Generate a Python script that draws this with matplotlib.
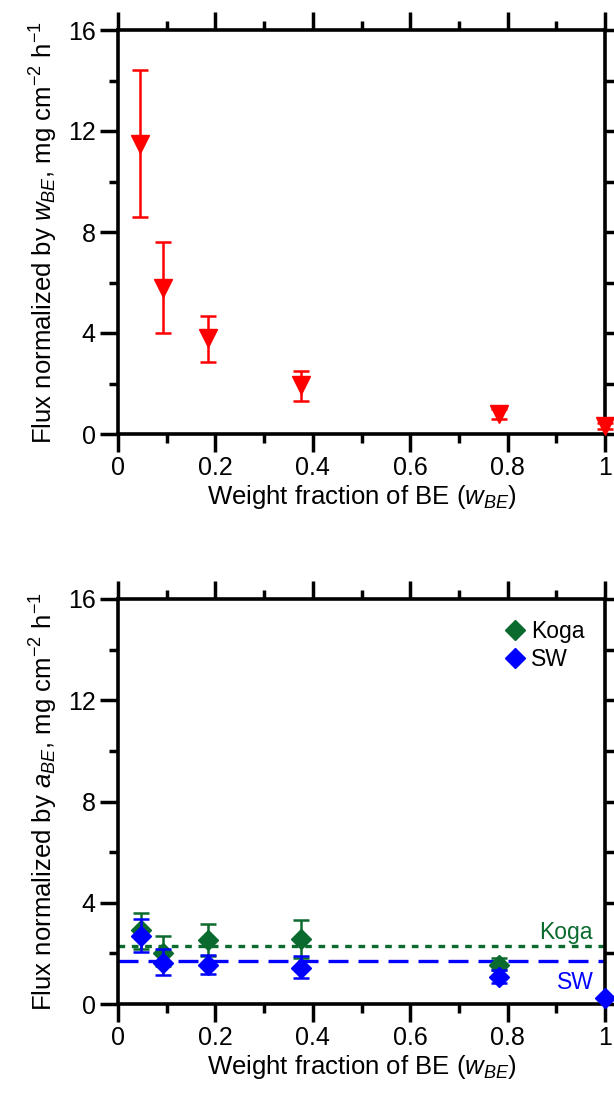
import matplotlib
matplotlib.use("Agg")
import matplotlib.pyplot as plt
from matplotlib.ticker import MultipleLocator

plt.rcParams['font.family'] = ['Liberation Sans', 'DejaVu Sans']
plt.rcParams['mathtext.fontset'] = 'custom'
plt.rcParams['mathtext.rm'] = 'Liberation Sans'
plt.rcParams['mathtext.it'] = 'Liberation Sans:italic'
plt.rcParams['mathtext.bf'] = 'Liberation Sans:bold'

# top panel: flux normalized by weight fraction
w_top = [0.045, 0.092, 0.184, 0.376, 0.783, 1.0]
flux_w = [11.5, 5.8, 3.8, 1.95, 0.78, 0.32]
flux_w_lo = [8.6, 4.0, 2.85, 1.29, 0.6, 0.2]
flux_w_hi = [14.4, 7.6, 4.67, 2.51, 1.0, 0.45]

# bottom panel: flux normalized by activity
w_koga = [0.047, 0.092, 0.184, 0.376, 0.783]
flux_koga = [2.92, 2.0, 2.53, 2.56, 1.54]
koga_lo = [2.16, 1.5, 1.9, 1.8, 1.34]
koga_hi = [3.61, 2.69, 3.15, 3.32, 1.82]

w_sw = [0.047, 0.092, 0.184, 0.376, 0.783, 1.0]
flux_sw = [2.70, 1.61, 1.54, 1.41, 1.08, 0.25]
sw_lo = [2.07, 1.15, 1.19, 1.01, 0.84, 0.25]
sw_hi = [3.36, 2.17, 1.94, 1.90, 1.34, 0.25]

koga_mean = 2.30
sw_mean = 1.71

green = '#0b6b2e'
blue = '#0000ff'


def err(y, lo, hi):
    return [[v - l for v, l in zip(y, lo)], [h - v for v, h in zip(y, hi)]]


def style(ax, ylabel):
    ax.set_xlim(0, 1)
    ax.set_ylim(0, 16)
    ax.xaxis.set_major_locator(MultipleLocator(0.2))
    ax.xaxis.set_minor_locator(MultipleLocator(0.1))
    ax.yaxis.set_major_locator(MultipleLocator(4))
    ax.yaxis.set_minor_locator(MultipleLocator(2))
    ax.set_xticks([0, 0.2, 0.4, 0.6, 0.8, 1.0])
    ax.set_xticklabels(['0', '0.2', '0.4', '0.6', '0.8', '1'])
    ax.tick_params(which='both', direction='out', top=True, right=True,
                   width=2.5, labelsize=18)
    ax.tick_params(which='major', length=13, pad=3)
    ax.tick_params(which='minor', length=6.5)
    for s in ax.spines.values():
        s.set_linewidth(2.6)
    ax.set_xlabel('Weight fraction of BE ($\\mathit{w}_{\\mathit{BE}}$)',
                  fontsize=18.5, labelpad=2)
    ax.set_ylabel(ylabel, fontsize=18.5, labelpad=6)


fig = plt.figure(figsize=(6.14, 10.99), dpi=100)
ax1 = fig.add_axes([118 / 614, 1 - 434 / 1099, 487 / 614, 404 / 1099])
ax2 = fig.add_axes([118 / 614, 1 - 1004 / 1099, 487 / 614, 405 / 1099])

ax1.errorbar(w_top, flux_w, yerr=err(flux_w, flux_w_lo, flux_w_hi), fmt='v',
             color='red', ms=13, capsize=6, elinewidth=1.8, capthick=1.8,
             clip_on=False, zorder=3)
style(ax1, 'Flux normalized by $\\mathit{w}_{\\mathit{BE}}$, mg cm$^{-2}$ h$^{-1}$')

ax2.axhline(koga_mean, color=green, ls=(0, (2, 2)), lw=2.4, zorder=1)
ax2.axhline(sw_mean, color=blue, ls=(0, (6, 3)), lw=2.4, zorder=1)
ax2.errorbar(w_koga, flux_koga, yerr=err(flux_koga, koga_lo, koga_hi), fmt='D',
             color=green, ms=10, capsize=6, elinewidth=1.8, capthick=1.8,
             label='Koga', clip_on=False, zorder=3)
ax2.errorbar(w_sw, flux_sw, yerr=err(flux_sw, sw_lo, sw_hi), fmt='D',
             color=blue, ms=10, capsize=6, elinewidth=1.8, capthick=1.8,
             label='SW', clip_on=False, zorder=4)
ax2.text(0.92, koga_mean + 0.25, 'Koga', color=green, fontsize=16.5, ha='center')
ax2.text(0.94, sw_mean - 0.4, 'SW', color=blue, fontsize=16.5, ha='center', va='top')
h, l = ax2.get_legend_handles_labels()
h = [x[0] for x in h]
ax2.legend(h, l, loc='upper right', frameon=False, fontsize=16.5,
           handletextpad=0.2, handlelength=1.0, borderaxespad=0.5, labelspacing=0.25)
style(ax2, 'Flux normalized by $\\mathit{a}_{\\mathit{BE}}$, mg cm$^{-2}$ h$^{-1}$')

fig.savefig('out.png', dpi=100)
